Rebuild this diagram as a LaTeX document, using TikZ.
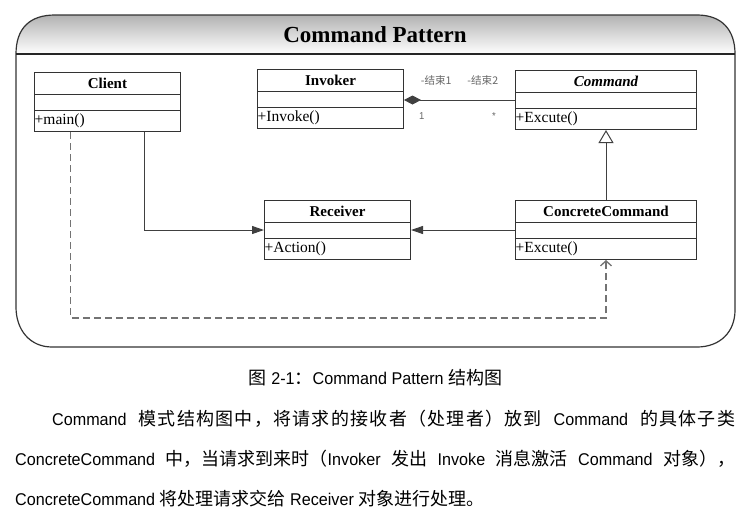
\documentclass[tikz,border=0pt]{standalone}
\usepackage{fontspec}
\setmainfont{Liberation Sans}[FakeStretch=0.95]
\newfontfamily\umlfont{Liberation Serif}
\newfontfamily\cjk{Noto Sans CJK SC}[Scale=1.0588]
\newfontfamily\cjkwide{Noto Sans CJK SC}[Scale=1.0588,LetterSpace=7]
\usetikzlibrary{calc,arrows.meta,positioning}
\newcommand{\zh}[1]{{\cjk #1}}
\newcommand{\zhw}[1]{{\cjkwide #1}}

\begin{document}
\begin{tikzpicture}[x=1pt,y=-1pt,
  cls/.style={draw=black!80,line width=1pt,fill=white,anchor=north west,minimum height=59pt,inner sep=0pt},
  clsname/.style={font=\umlfont\fontsize{15}{18}\selectfont\bfseries},
  clsop/.style={font=\umlfont\fontsize{15.5}{18}\selectfont,anchor=west,inner xsep=0.5pt},
  conn/.style={draw=black!75,line width=1pt},
  dep/.style={draw=black!55,line width=1.3pt,dash pattern=on 7pt off 4pt},
  role/.style={font=\fontsize{10}{12}\selectfont,text=black!60,inner sep=1pt},
  para/.style={font=\fontsize{17}{20}\selectfont,anchor=base west,inner sep=0pt}]
                \useasboundingbox (0,0) rectangle (754,520);
                \shade[top color=black!30,bottom color=white] (16,54) .. controls (16,28) and (30,15) .. (55,15) -- (697,15) .. controls (722,15) and (735,30) .. (735,54) -- cycle;
                \draw[black!80,line width=1.2pt] (16,54) .. controls (16,28) and (30,15) .. (55,15) -- (697,15) .. controls (722,15) and (735,30) .. (735,54) -- (735,310) .. controls (735,332) and (720,347) .. (697,347) -- (52,347) .. controls (30,347) and (16,330) .. (16,307) -- cycle;
                \draw[black!85,line width=1.2pt] (16,54) -- (735,54);
                \node[font=\umlfont\fontsize{23}{26}\selectfont\bfseries] (title) at (375,35) {Command Pattern};
                \foreach \nm/\x/\y/\w/\ttl/\op in {client/34/72/146/Client/+main(),invoker/257/69/146/Invoker/+Invoke(),command/515/70/181/{\itshape Command}/+Excute(),receiver/264/200/146/Receiver/+Action(),concrete/515/200/181/ConcreteCommand/+Excute()}
                {
                \node[cls,minimum width=\w pt] (\nm) at (\x,\y) {};
                \draw[black!80,line width=1pt] ([yshift=-22pt]\nm.north west) -- ([yshift=-22pt]\nm.north east);
                \draw[black!80,line width=1pt] ([yshift=-38pt]\nm.north west) -- ([yshift=-38pt]\nm.north east);
                \node[clsname] at ([yshift=-11pt]\nm.north) {\ttl};
                \node[clsop] at ([yshift=-48.5pt]\nm.north west) {\op};
                }
                \draw[conn,-{Diamond[length=17pt,width=9pt]}] (command.west) -- (invoker.east |- command.west)
                    node[role,pos=0.29,above=13pt]{\zh{-结束2}}
                    node[role,pos=0.71,above=13pt]{\zh{-结束1}}
                    node[role,pos=0.19,below=11pt]{*}
                    node[role,pos=0.84,below=11pt]{1};
                \draw[conn,-{Triangle[open,length=13pt,width=15pt]}] (concrete.north) -- (command.south);
                \draw[conn,-{Triangle[length=12pt,width=8pt]}] ($(client.south west)!0.75!(client.south east)$) |- (receiver.west);
                \draw[conn,-{Triangle[length=12pt,width=8pt]}] (concrete.west) -- (receiver.east);
                \coordinate (turn) at (concrete.south |- 0,318);
                \draw[dep,-{Straight Barb[length=5pt,width=11pt]}] ($(client.south west)!0.25!(client.south east)$) |- (turn) -- (concrete.south);
                \node[font=\fontsize{17}{20}\selectfont,anchor=base] (caption) at (375.5,384) {\zh{图} 2-1\zh{：}Command Pattern \zh{结构图}};
                \node[para] (line1) at (52,425) {\makebox[683pt][s]{Command \zhw{模式结构图中，将请求的接收者（处理者）放到} Command \zhw{的具体子类}}};
                \node[para] (line2) at (15,465) {\makebox[720pt][s]{ConcreteCommand \zh{中，当请求到来时（}Invoker \zh{发出} Invoke \zh{消息激活} Command \zh{对象），}}};
                \node[para] (line3) at (15,505) {ConcreteCommand \zh{将处理请求交给} Receiver \zh{对象进行处理。}};
            \end{tikzpicture}
\end{document}
